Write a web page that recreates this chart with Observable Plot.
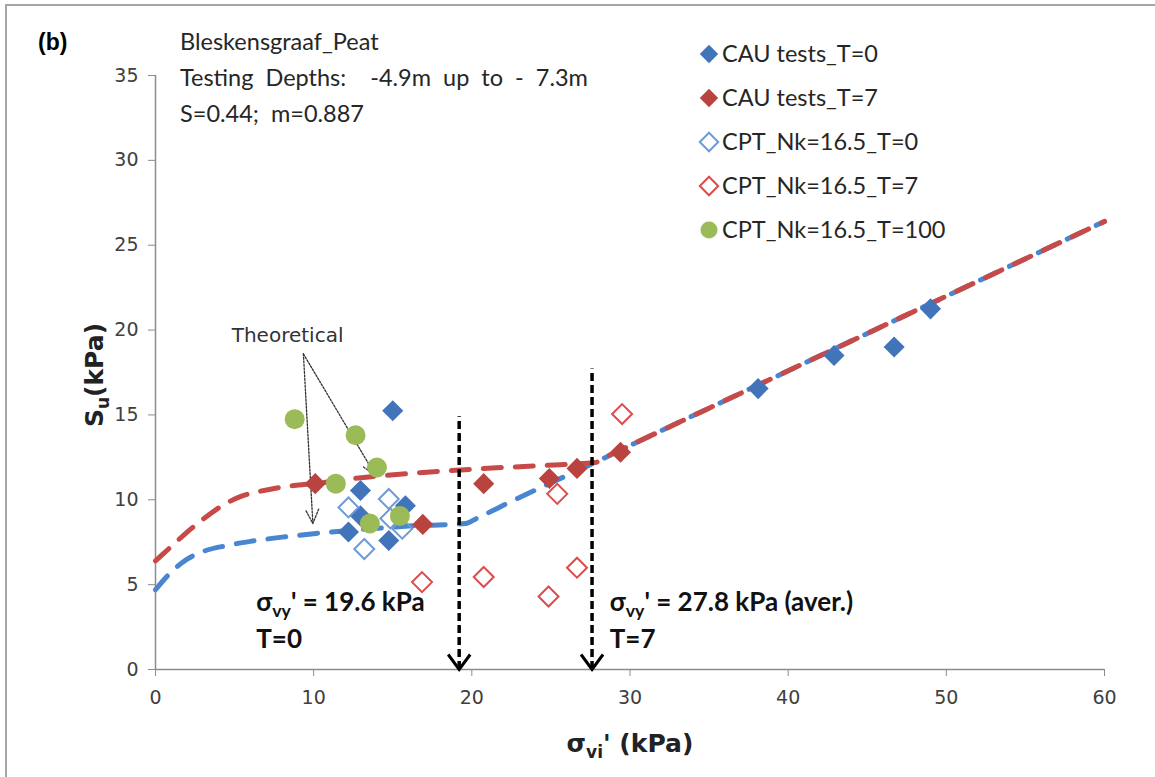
<!DOCTYPE html>
<html>
<head>
<meta charset="utf-8">
<script src="https://cdn.jsdelivr.net/npm/d3@7"></script>
<script src="https://cdn.jsdelivr.net/npm/@observablehq/plot@0.6"></script>
<style>
  body { margin: 0; background: #fff; }
  #wrap { position: relative; width: 1155px; height: 777px; overflow: hidden; background: #fff; }
  #frame { position: absolute; left: 5px; top: 4px; width: 1200px; height: 800px; border-left: 2px solid #a6a6a6; border-top: 2px solid #a6a6a6; pointer-events: none; }
  #wrap svg { position: absolute; left: 0; top: 0; }
</style>
</head>
<body>
<div id="wrap"><div id="frame"></div></div>
<script>
// ---------- data ----------
const xTicks = [0, 10, 20, 30, 40, 50, 60];
const yTicks = [0, 5, 10, 15, 20, 25, 30, 35];

const seriesNames = ["CAU tests_T=0", "CAU tests_T=7", "CPT_Nk=16.5_T=0", "CPT_Nk=16.5_T=7", "CPT_Nk=16.5_T=100"];

// [sigma'_vi (kPa), Su (kPa)]
const cauT0 = [[15.0, 15.25], [12.96, 10.55], [15.8, 9.65], [12.96, 9.05], [12.2, 8.1], [14.75, 7.6],
               [38.1, 16.55], [42.9, 18.5], [46.7, 19.0], [49.0, 21.25]];
const cauT7 = [[10.1, 10.95], [16.9, 8.55], [20.75, 10.95], [24.9, 11.25], [26.65, 11.85], [29.4, 12.8]];
const cptT0 = [[12.2, 9.55], [14.75, 10.05], [13.2, 7.1], [15.6, 8.3], [14.85, 8.9]];
const cptT7 = [[29.5, 15.05], [25.4, 10.35], [16.85, 5.15], [20.75, 5.45], [24.85, 4.3], [26.65, 6.0]];
const cptT100 = [[8.8, 14.75], [12.65, 13.8], [14.0, 11.9], [11.4, 10.95], [13.55, 8.6], [15.45, 9.05]];

// theoretical curves
const theoryT0 = [[0, 4.7], [1, 5.75], [2, 6.5], [3, 6.95], [4.5, 7.3], [6, 7.55], [8, 7.8], [10, 8.0],
                  [13, 8.25], [16, 8.45], [19.6, 8.6], [20.3, 8.9], [22.6, 9.95], [25, 11.0], [27.8, 12.2],
                  [30, 13.2], [35, 15.4], [40, 17.6], [50, 22.0], [60, 26.4]];
const theoryT7 = [[0, 6.4], [1, 7.25], [2, 8.1], [3, 8.85], [4.3, 9.7], [5.4, 10.2], [6.6, 10.5], [8, 10.75],
                  [10, 10.95], [13, 11.3], [16, 11.55], [20, 11.8], [24, 12.0], [27.8, 12.2], [28.6, 12.58],
                  [30, 13.2], [35, 15.4], [40, 17.6], [50, 22.0], [60, 26.4]];

// yield stress markers
const yieldX = [19.2, 27.6];
const yieldTop = [14.9, 17.7];
const yieldValue = ["' = 19.6 kPa", "' = 27.8 kPa (aver.)"];
const yieldT = ["T=0", "T=7"];

// "Theoretical" annotation
const theoryLabel = ["Theoretical"];
const theoryFrom = [9.35, 18.6];
const theoryTo = [[9.95, 8.6], [13.9, 11.45]];

const titleLines = ["Bleskensgraaf_Peat", "Testing Depths:  -4.9m up to - 7.3m", "S=0.44; m=0.887"];
const panelLabel = "(b)";

// ---------- styles ----------
const C = {
  blue: "#4274B9", red: "#B8433F", openBlue: "#6E9BD8", openRed: "#E04A4A", green: "#9BBB59",
  lineBlue: "#4A86D0", lineRed: "#C84A48", axis: "#8c8c8c", tick: "#404040", text: "#262626"
};

// open "V" arrowhead with its tip at the anchor point
const vHead = { draw(ctx) { ctx.moveTo(-11, -15); ctx.lineTo(0, 0); ctx.lineTo(11, -15); } };

const chart = Plot.plot({
  width: 1155, height: 777,
  marginLeft: 155, marginRight: 51, marginTop: 75, marginBottom: 108,
  style: { fontFamily: "DejaVu Sans", fontSize: "19px", background: "transparent", overflow: "visible" },
  x: { domain: [0, 60], label: null },
  y: { domain: [0, 35], label: null },
  marks: [
    Plot.axisX({ ticks: xTicks, tickSize: 7, tickPadding: 14, stroke: C.axis, fill: C.tick, label: null, tickFormat: d => String(d) }),
    Plot.axisY({ ticks: yTicks, tickSize: 7, tickPadding: 10, stroke: C.axis, fill: C.tick, label: null, tickFormat: d => String(d) }),
    Plot.ruleY([0], { stroke: C.axis, strokeWidth: 1.5 }),
    Plot.ruleX([0], { y1: 0, y2: 35, stroke: C.axis, strokeWidth: 1.5 }),
    Plot.line(theoryT0, { x: d => d[0], y: d => d[1], stroke: C.lineBlue, strokeWidth: 5, strokeDasharray: "18,14", strokeLinecap: "round", curve: "monotone-x" }),
    Plot.line(theoryT7, { x: d => d[0], y: d => d[1], stroke: C.lineRed, strokeWidth: 5, strokeDasharray: "18,14", strokeLinecap: "round", curve: "monotone-x" }),
    Plot.ruleX(d3.range(yieldX.length), { x: i => yieldX[i], y1: () => 0, y2: i => yieldTop[i], stroke: "#000", strokeWidth: 3.5, strokeDasharray: "8,4" }),
    Plot.dot(yieldX, { x: d => d, y: () => 0, symbol: vHead, fill: "none", stroke: "#000", strokeWidth: 3 }),
    Plot.arrow(theoryTo, { x1: () => theoryFrom[0], y1: () => theoryFrom[1], x2: d => d[0], y2: d => d[1], stroke: "#333", strokeWidth: 1.3, strokeDasharray: "2,1.5", headLength: 18, headAngle: 50 }),
    Plot.text(theoryLabel, { x: () => 8.35, y: () => 19.7, text: d => d, fontSize: 20, fill: "#333", fontFamily: "DejaVu Sans" }),
    Plot.dot(cauT0, { x: d => d[0], y: d => d[1], symbol: "diamond2", r: 9.5, fill: C.blue }),
    Plot.dot(cauT7, { x: d => d[0], y: d => d[1], symbol: "diamond2", r: 9.5, fill: C.red }),
    Plot.dot(cptT0, { x: d => d[0], y: d => d[1], symbol: "diamond2", r: 9, fill: "none", stroke: C.openBlue, strokeWidth: 2 }),
    Plot.dot(cptT7, { x: d => d[0], y: d => d[1], symbol: "diamond2", r: 9, fill: "none", stroke: C.openRed, strokeWidth: 2 }),
    Plot.dot(cptT100, { x: d => d[0], y: d => d[1], r: 10, fill: C.green })
  ]
});

document.getElementById("wrap").appendChild(chart);

const sx = chart.scale("x"), sy = chart.scale("y");
const svg = d3.select(chart);

function addText(x, y, parts, opts) {
  const t = svg.append("text")
    .attr("x", x).attr("y", y)
    .attr("font-family", opts.family || "Lato")
    .attr("font-size", opts.size)
    .attr("font-weight", opts.weight || "normal")
    .attr("fill", opts.fill || C.text)
    .attr("text-anchor", opts.anchor || "start")
    .style("white-space", "pre");
  if (opts.wordSpacing) t.style("word-spacing", opts.wordSpacing + "px");
  if (opts.transform) t.attr("transform", opts.transform);
  parts.forEach(p => {
    const s = t.append("tspan").text(p.t);
    if (p.sub) s.attr("font-size", opts.size * 0.68).attr("dy", opts.size * 0.22);
    if (p.back) s.attr("dy", -opts.size * 0.22);
  });
  return t;
}

// panel label
addText(38, 50, [{ t: panelLabel }], { family: "Liberation Sans", size: 23, weight: "bold", fill: "#000" });

// title block
titleLines.forEach((line, i) => addText(180, 50 + i * 36, [{ t: line }], { size: 23.5, wordSpacing: i === 0 ? 0 : 6 }));

// legend
const sym = d3.symbol();
seriesNames.forEach((name, i) => {
  const cy = 54 + i * 44, cx = 709;
  if (i < 4) {
    const p = svg.append("path")
      .attr("transform", `translate(${cx},${cy})`)
      .attr("d", sym.type(d3.symbolDiamond2).size(Math.PI * 8.3 * 8.3)());
    if (i === 0) p.attr("fill", C.blue);
    else if (i === 1) p.attr("fill", C.red);
    else p.attr("fill", "none").attr("stroke", i === 2 ? C.openBlue : C.openRed).attr("stroke-width", 2);
  } else {
    svg.append("circle").attr("cx", cx).attr("cy", cy).attr("r", 8.5).attr("fill", C.green);
  }
  addText(722, cy + 8, [{ t: name }], { size: 23.5 });
});

// yield annotations
const yieldLeft = [6.4, 28.75];
yieldX.forEach((_, i) => {
  const lx = sx.apply(yieldLeft[i]);
  addText(lx, sy.apply(3.4), [{ t: "σ" }, { t: "vy", sub: true }, { t: yieldValue[i], back: true }], { size: 26, weight: "bold", fill: "#111" });
  addText(lx, sy.apply(1.25), [{ t: yieldT[i] }], { size: 26, weight: "bold", fill: "#111" });
});

// axis titles
addText(630, 752, [{ t: "σ" }, { t: "vi", sub: true }, { t: "' (kPa)", back: true }], { family: "DejaVu Sans", size: 25, weight: "bold", anchor: "middle", fill: "#222" });
addText(0, 0, [{ t: "S" }, { t: "u", sub: true }, { t: "(kPa)", back: true }], { family: "DejaVu Sans", size: 25, weight: "bold", anchor: "middle", fill: "#222", transform: "translate(103,375) rotate(-90)" });
</script>
</body>
</html>
